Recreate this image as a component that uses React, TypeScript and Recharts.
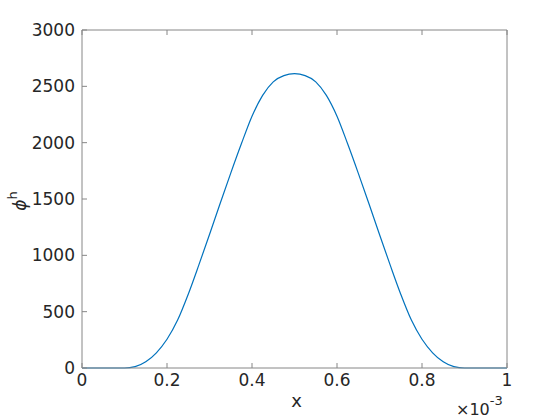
import React from "react";
import { Label, Line, LineChart, XAxis, YAxis } from "recharts";

// x in units of 1e-3 (the axis carries a x10^-3 multiplier)
const xValues = [
  0, 0.025, 0.05, 0.075, 0.1, 0.125, 0.15, 0.175, 0.2, 0.225, 0.25, 0.275,
  0.3, 0.325, 0.35, 0.375, 0.4, 0.425, 0.45, 0.475, 0.5, 0.525, 0.55, 0.575,
  0.6, 0.625, 0.65, 0.675, 0.7, 0.725, 0.75, 0.775, 0.8, 0.825, 0.85, 0.875,
  0.9, 0.925, 0.95, 0.975, 1,
];
const phiValues = [
  0, 0, 0, 0, 0, 12, 55, 135, 255, 425, 655, 915, 1185, 1460, 1730, 1990,
  2235, 2420, 2540, 2595, 2612, 2595, 2540, 2420, 2235, 1990, 1730, 1460,
  1185, 915, 655, 425, 255, 135, 55, 12, 0, 0, 0, 0, 0,
];
const xTicks = [0, 0.2, 0.4, 0.6, 0.8, 1];
const xTickLabels = ["0", "0.2", "0.4", "0.6", "0.8", "1"];
const yTicks = [0, 500, 1000, 1500, 2000, 2500, 3000];
const yTickLabels = ["0", "500", "1000", "1500", "2000", "2500", "3000"];

const data = xValues.map((x, i) => ({ x, phi: phiValues[i] }));

const FONT = "'DejaVu Sans', Arial, sans-serif";
const TEXT = "#262626";
const AXIS = "#868686";
const TICK_LEN = 5;

const BottomTick = (props: any) => {
  const { x, y, index } = props;
  return (
    <g>
      <line x1={x} y1={y} x2={x} y2={y - TICK_LEN} stroke={AXIS} />
      <text x={x} y={y + 18} textAnchor="middle" fontSize={17} fill={TEXT} fontFamily={FONT}>
        {xTickLabels[index]}
      </text>
    </g>
  );
};

const TopTick = (props: any) => {
  const { x, y } = props;
  return <line x1={x} y1={y} x2={x} y2={y + TICK_LEN} stroke={AXIS} />;
};

const LeftTick = (props: any) => {
  const { x, y, index } = props;
  return (
    <g>
      <line x1={x} y1={y} x2={x + TICK_LEN} y2={y} stroke={AXIS} />
      <text x={x - 7} y={y} dy="0.36em" textAnchor="end" fontSize={17} fill={TEXT} fontFamily={FONT}>
        {yTickLabels[index]}
      </text>
    </g>
  );
};

const RightTick = (props: any) => {
  const { x, y } = props;
  return <line x1={x} y1={y} x2={x - TICK_LEN} y2={y} stroke={AXIS} />;
};

const XLabels = (props: any) => {
  const { x, y, width } = props.viewBox;
  return (
    <g fontFamily={FONT} fill={TEXT}>
      <text x={x + width / 2 + 2} y={y + 39} textAnchor="middle" fontSize={18}>
        x
      </text>
      <text x={x + width - 51} y={y + 47} fontSize={16}>
        ×10
        <tspan dy={-10} fontSize={13}>
          -3
        </tspan>
      </text>
    </g>
  );
};

const YLabel = (props: any) => {
  const { y, height } = props.viewBox;
  return (
    <text
      transform={`translate(26, ${y + height / 2 + 2}) rotate(-90)`}
      textAnchor="middle"
      fontFamily={FONT}
      fill={TEXT}
      fontSize={17}
    >
      <tspan fontStyle="italic">ϕ</tspan>
      <tspan dy={-9} fontSize={13}>
        h
      </tspan>
    </text>
  );
};

export default function App() {
  return (
    <div style={{ position: "absolute", left: 0, top: 0, background: "#fff" }}>
      <LineChart width={560} height={420} data={data} margin={{ top: 0, right: 0, bottom: 0, left: 0 }}>
        <XAxis
          xAxisId="bottom"
          dataKey="x"
          type="number"
          domain={[0, 1]}
          ticks={xTicks}
          height={52}
          stroke={AXIS}
          tickSize={0}
          tickMargin={0}
          tickLine={false}
          tick={<BottomTick />}
          interval={0}
        >
          <Label content={<XLabels />} />
        </XAxis>
        <XAxis
          xAxisId="top"
          orientation="top"
          dataKey="x"
          type="number"
          domain={[0, 1]}
          ticks={xTicks}
          height={30}
          stroke={AXIS}
          tickSize={0}
          tickMargin={0}
          tickLine={false}
          tick={<TopTick />}
          interval={0}
        />
        <YAxis
          yAxisId="left"
          type="number"
          domain={[0, 3000]}
          ticks={yTicks}
          width={82}
          stroke={AXIS}
          tickSize={0}
          tickMargin={0}
          tickLine={false}
          tick={<LeftTick />}
          interval={0}
        >
          <Label content={<YLabel />} />
        </YAxis>
        <YAxis
          yAxisId="right"
          orientation="right"
          type="number"
          domain={[0, 3000]}
          ticks={yTicks}
          width={53}
          stroke={AXIS}
          tickSize={0}
          tickMargin={0}
          tickLine={false}
          tick={<RightTick />}
          interval={0}
        />
        <Line
          xAxisId="bottom"
          yAxisId="left"
          type="monotone"
          dataKey="phi"
          stroke="#0072BD"
          strokeWidth={1.2}
          dot={false}
          isAnimationActive={false}
        />
      </LineChart>
    </div>
  );
}
